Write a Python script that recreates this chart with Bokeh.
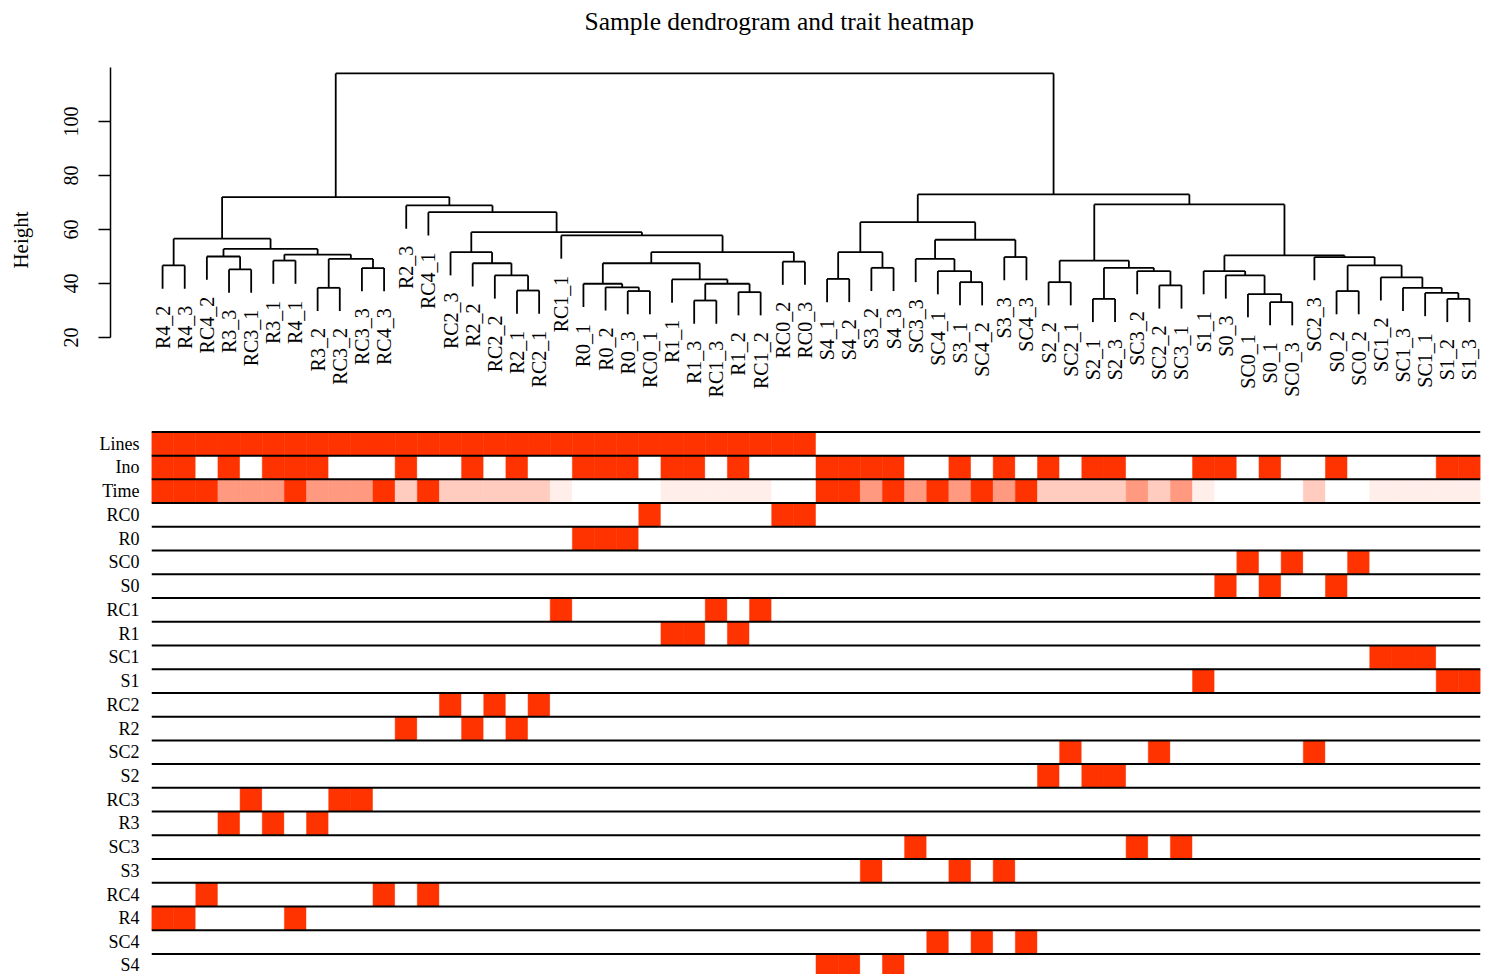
import math
from bokeh.plotting import figure
from bokeh.models import ColumnDataSource, Range1d, LinearAxis, FixedTicker
from bokeh.embed import file_html
from bokeh.resources import INLINE
from bokeh.core.properties import value

# ---------------- data ----------------
leaf_order = [
    "R4_2", "R4_3", "RC4_2", "R3_3", "RC3_1", "R3_1", "R4_1", "R3_2", "RC3_2", "RC3_3",
    "RC4_3", "R2_3", "RC4_1", "RC2_3", "R2_2", "RC2_2", "R2_1", "RC2_1", "RC1_1", "R0_1",
    "R0_2", "R0_3", "RC0_1", "R1_1", "R1_3", "RC1_3", "R1_2", "RC1_2", "RC0_2", "RC0_3",
    "S4_1", "S4_2", "S3_2", "S4_3", "SC3_3", "SC4_1", "S3_1", "SC4_2", "S3_3", "SC4_3",
    "S2_2", "SC2_1", "S2_1", "S2_3", "SC3_2", "SC2_2", "SC3_1", "S1_1", "S0_3", "SC0_1",
    "S0_1", "SC0_3", "SC2_3", "S0_2", "SC0_2", "SC1_2", "SC1_3", "SC1_1", "S1_2", "S1_3",
]

# (left child, right child, merge height); "#k" refers to merge k
merges = [
    ("R4_2", "R4_3", 46.7), ("R3_3", "RC3_1", 45.2), ("RC4_2", "#1", 50.0),
    ("R3_1", "R4_1", 48.5), ("R3_2", "RC3_2", 38.4), ("RC3_3", "RC4_3", 45.7),
    ("#4", "#5", 49.1), ("#3", "#6", 50.7), ("#2", "#7", 52.8), ("#0", "#8", 56.6),
    ("R2_1", "RC2_1", 37.4), ("RC2_2", "#10", 43.0), ("R2_2", "#11", 47.5),
    ("RC2_3", "#12", 51.6), ("R0_3", "RC0_1", 37.2), ("R0_2", "#14", 38.6),
    ("R0_1", "#15", 39.9), ("R1_3", "RC1_3", 33.7), ("R1_2", "RC1_2", 36.8),
    ("#17", "#18", 39.9), ("R1_1", "#19", 41.5), ("#16", "#20", 47.5),
    ("RC0_2", "RC0_3", 48.1), ("#21", "#22", 51.6), ("RC1_1", "#23", 57.8),
    ("#13", "#24", 59.0), ("RC4_1", "#25", 66.4), ("R2_3", "#26", 68.9),
    ("#9", "#27", 72.0),
    ("S4_1", "S4_2", 41.7), ("S3_2", "S4_3", 45.8), ("#29", "#30", 51.6),
    ("S3_1", "SC4_2", 40.5), ("SC4_1", "#32", 44.6), ("SC3_3", "#33", 49.1),
    ("S3_3", "SC4_3", 49.8), ("#34", "#35", 56.2), ("#31", "#36", 62.7),
    ("S2_2", "SC2_1", 40.5), ("S2_1", "S2_3", 34.3), ("SC2_2", "SC3_1", 39.3),
    ("SC3_2", "#40", 44.6), ("#39", "#41", 45.8), ("#38", "#42", 48.5),
    ("S0_1", "SC0_3", 33.1), ("SC0_1", "#44", 36.1), ("S0_3", "#45", 43.0),
    ("S1_1", "#46", 44.6), ("S0_2", "SC0_2", 37.2), ("S1_2", "S1_3", 34.3),
    ("SC1_1", "#49", 36.5), ("SC1_3", "#50", 38.4), ("SC1_2", "#51", 42.3),
    ("#48", "#52", 46.7), ("SC2_3", "#53", 49.8), ("#47", "#54", 50.4),
    ("#43", "#55", 69.3), ("#37", "#56", 73.0), ("#28", "#57", 117.8),
]
leaf_hang = 8.6
height_ticks = [20, 40, 60, 80, 100]
height_axis_bounds = (20, 120)

trait_rows = ["Lines", "Ino", "Time", "RC0", "R0", "SC0", "S0", "RC1", "R1", "SC1", "S1",
              "RC2", "R2", "SC2", "S2", "RC3", "R3", "SC3", "S3", "RC4", "R4", "SC4", "S4"]

lines_values = [1, 1, 1, 1, 1, 1, 1, 1, 1, 1, 1, 1, 1, 1, 1, 1, 1, 1, 1, 1,
                1, 1, 1, 1, 1, 1, 1, 1, 1, 1, 0, 0, 0, 0, 0, 0, 0, 0, 0, 0,
                0, 0, 0, 0, 0, 0, 0, 0, 0, 0, 0, 0, 0, 0, 0, 0, 0, 0, 0, 0]
ino_values = [1, 1, 0, 1, 0, 1, 1, 1, 0, 0, 0, 1, 0, 0, 1, 0, 1, 0, 0, 1,
              1, 1, 0, 1, 1, 0, 1, 0, 0, 0, 1, 1, 1, 1, 0, 0, 1, 0, 1, 0,
              1, 0, 1, 1, 0, 0, 0, 1, 1, 0, 1, 0, 0, 1, 0, 0, 0, 0, 1, 1]
time_values = [12, 12, 12, 6, 6, 6, 12, 6, 6, 6, 12, 3, 12, 3, 3, 3, 3, 3, 1, 0,
               0, 0, 0, 1, 1, 1, 1, 1, 0, 0, 12, 12, 6, 12, 6, 12, 6, 12, 6, 12,
               3, 3, 3, 3, 6, 3, 6, 1, 0, 0, 0, 0, 3, 0, 0, 1, 1, 1, 1, 1]

FONT = "Liberation Serif"
LOW = (255, 255, 255)
HIGH = (255, 51, 0)

# ---------------- title strip ----------------
pT = figure(width=1488, height=45, output_backend="svg", toolbar_location=None,
            x_axis_type=None, y_axis_type=None, min_border_left=0, min_border_right=0,
            min_border_top=0, min_border_bottom=0, outline_line_color=None,
            x_range=Range1d(0, 1), y_range=Range1d(0, 1))
pT.grid.visible = False
pT.title.text = "Sample dendrogram and trait heatmap"
pT.title.text_font = FONT
pT.title.text_font_size = "25.5px"
pT.title.text_font_style = "normal"
pT.title.text_color = "black"
pT.title.align = "left"
pT.title.vertical_align = "top"
pT.title.offset = 584
pT.title.standoff = 12

# ---------------- dendrogram geometry ----------------
pos = {name: i + 1 for i, name in enumerate(leaf_order)}
mx, mh = [], []
x0, y0, x1, y1 = [], [], [], []
leaf_bottom = {}


def child_info(ref, h):
    if ref.startswith("#"):
        k = int(ref[1:])
        return mx[k], mh[k]
    leaf_bottom[ref] = h - leaf_hang
    return pos[ref], h - leaf_hang


for a, b, h in merges:
    xa, ya = child_info(a, h)
    xb, yb = child_info(b, h)
    x0 += [xa, xb, xa]
    y0 += [ya, yb, h]
    x1 += [xa, xb, xb]
    y1 += [h, h, h]
    mx.append((xa + xb) / 2.0)
    mh.append(h)

pA = figure(width=1488, height=379, x_range=Range1d(-1.351, 60.86),
            y_range=Range1d(-12.22, 124.44), output_backend="svg", toolbar_location=None,
            x_axis_type=None, y_axis_type=None, min_border_left=110, min_border_right=0,
            min_border_top=10, min_border_bottom=0, outline_line_color=None)
pA.grid.visible = False

pA.segment(x0=x0, y0=y0, x1=x1, y1=y1, line_color="black", line_width=1.8)

lab_src = ColumnDataSource(dict(x=[pos[n] for n in leaf_order],
                                y=[leaf_bottom[n] for n in leaf_order],
                                t=leaf_order))
pA.text(x="x", y="y", text="t", source=lab_src, angle=math.pi / 2, text_align="right",
        text_baseline="middle", y_offset=17, text_font=value(FONT),
        text_font_size="20px", text_color="black")

yax = LinearAxis(bounds=height_axis_bounds, ticker=FixedTicker(ticks=height_ticks),
                 axis_label="Height")
yax.axis_line_color = "black"
yax.axis_line_width = 1.5
yax.major_tick_line_width = 1.5
yax.major_tick_out = 12
yax.major_tick_in = 0
yax.minor_tick_out = 0
yax.minor_tick_in = 0
yax.major_label_orientation = "vertical"
yax.major_label_standoff = 20
yax.major_label_text_font = FONT
yax.major_label_text_font_size = "20px"
yax.major_label_text_color = "black"
yax.axis_label_text_font = FONT
yax.axis_label_text_font_size = "21px"
yax.axis_label_text_font_style = "normal"
yax.axis_label_text_color = "black"
yax.axis_label_standoff = 29
pA.add_layout(yax, "left")

# ---------------- trait heatmap ----------------
groups = [n.split("_")[0] for n in leaf_order]
row_data = {"Lines": lines_values, "Ino": ino_values, "Time": time_values}
for r in trait_rows[3:]:
    row_data[r] = [1 if g == r else 0 for g in groups]


def to_color(v, vmax):
    t = 0.0 if vmax == 0 else v / vmax
    c = [round(LOW[i] + (HIGH[i] - LOW[i]) * t) for i in range(3)]
    return "#%02x%02x%02x" % tuple(c)


L, R, T, B, C = [], [], [], [], []
for ri, r in enumerate(trait_rows):
    vals = row_data[r]
    vmax = max(vals)
    for ci, v in enumerate(vals):
        col = pos[leaf_order[ci]]
        L.append(col - 0.5)
        R.append(col + 0.5)
        T.append(ri)
        B.append(ri + 1)
        C.append(to_color(v, vmax))

pB = figure(width=1488, height=550, x_range=Range1d(0.5, 60.5),
            y_range=Range1d(22.866, -0.101), output_backend="svg", toolbar_location=None,
            x_axis_type=None, y_axis_type=None, min_border_left=151, min_border_right=8,
            min_border_top=5, min_border_bottom=0, outline_line_color=None)
pB.grid.visible = False
pB.quad(left=L, right=R, top=T, bottom=B, fill_color=C, line_color=C, line_width=0.5)

nrow = len(trait_rows)
ncol = len(leaf_order)
pB.segment(x0=[0.5] * (nrow + 1), x1=[ncol + 0.5] * (nrow + 1),
           y0=list(range(nrow + 1)), y1=list(range(nrow + 1)),
           line_color="black", line_width=2)

rax = LinearAxis(ticker=FixedTicker(ticks=[i + 0.5 for i in range(nrow)]))
rax.major_label_overrides = {i + 0.5: r for i, r in enumerate(trait_rows)}
rax.axis_line_color = None
rax.major_tick_line_color = None
rax.minor_tick_line_color = None
rax.major_tick_out = 0
rax.major_tick_in = 0
rax.major_label_standoff = 12
rax.major_label_text_font = FONT
rax.major_label_text_font_size = "18px"
rax.major_label_text_color = "black"
pB.add_layout(rax, "left")

open("out.html", "w").write(file_html([pT, pA, pB], INLINE))
